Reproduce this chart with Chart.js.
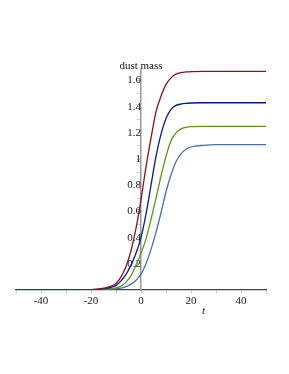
<!DOCTYPE html>
<html>
<head>
<meta charset="utf-8">
<script src="https://cdn.jsdelivr.net/npm/chart.js@4/dist/chart.umd.min.js"></script>
<style>
  html, body { margin: 0; padding: 0; background: #fff; }
  #wrap { width: 289px; height: 374px; }
</style>
</head>
<body>
<div id="wrap"><canvas id="chart"></canvas></div>
<script>
// time values (t)
const tValues = [-50, -30, -20, -16, -12, -10, -8, -6, -4, -2, 0, 2, 4, 6, 8, 10, 12, 14, 16, 18, 20, 25, 30, 40, 50];

// dust mass, one list per curve
const massRed   = [0, 0, 0.003, 0.01, 0.03, 0.05, 0.1, 0.18, 0.3, 0.47, 0.69, 0.94, 1.16, 1.36, 1.48, 1.57, 1.62, 1.648, 1.66, 1.665, 1.668, 1.67, 1.67, 1.67, 1.67];
const massBlue  = [0, 0, 0.002, 0.006, 0.02, 0.035, 0.07, 0.12, 0.19, 0.28, 0.4, 0.58, 0.8, 1.02, 1.19, 1.31, 1.38, 1.41, 1.42, 1.425, 1.428, 1.43, 1.43, 1.43, 1.43];
const massGreen = [0, 0, 0.001, 0.003, 0.01, 0.017, 0.03, 0.06, 0.11, 0.19, 0.28, 0.39, 0.54, 0.7, 0.87, 1.02, 1.14, 1.2, 1.23, 1.242, 1.247, 1.25, 1.25, 1.25, 1.25];
const massLight = [0, 0, 0, 0.002, 0.006, 0.009, 0.014, 0.026, 0.045, 0.075, 0.12, 0.2, 0.31, 0.44, 0.59, 0.75, 0.88, 0.98, 1.04, 1.075, 1.092, 1.105, 1.11, 1.11, 1.11];

const xTickLabels = [-40, -20, 0, 20, 40];
const yTickLabels = [0.2, 0.4, 0.6, 0.8, 1, 1.2, 1.4, 1.6];
// small unlabelled tick marks between the labelled ones
const yMinorTicks = [0.1, 0.3, 0.5, 0.7, 0.9, 1.1, 1.3, 1.5];

const yTitle = 'dust mass';
const xTitle = 't';

const toPoints = (ys) => tValues.map((t, i) => ({x: t, y: ys[i]}));

const serif = '"Liberation Serif", "DejaVu Serif", serif';

const axisTitles = {
    id: 'axisTitles',
    afterDraw(chart) {
        const c = chart.ctx;
        const xs = chart.scales.x, ys = chart.scales.y;
        c.save();
        c.fillStyle = '#111';
        c.font = '11px ' + serif;
        c.textAlign = 'center';
        c.textBaseline = 'alphabetic';
        c.fillText(yTitle, xs.getPixelForValue(0), chart.chartArea.top - 1);
        c.font = 'italic 11px ' + serif;
        c.fillText(xTitle, xs.getPixelForValue(25), ys.getPixelForValue(0) + 24);
        c.restore();
    }
};

const ctx = document.getElementById('chart').getContext('2d');
const chart = new Chart(ctx, {
    type: 'line',
    data: {
        datasets: [
            { data: toPoints(massRed),   borderColor: '#8c1020' },
            { data: toPoints(massBlue),  borderColor: '#0a1890' },
            { data: toPoints(massGreen), borderColor: '#5a9812' },
            { data: toPoints(massLight), borderColor: '#4a6eb2' },
        ]
    },
    options: {
        responsive: true,
        maintainAspectRatio: false,
        animation: false,
        layout: { padding: { left: 16, right: 23, top: 70, bottom: 84 } },
        elements: {
            point: { radius: 0 },
            line: { borderWidth: 1.3, cubicInterpolationMode: 'monotone', fill: false }
        },
        plugins: {
            legend: { display: false },
            tooltip: { enabled: false }
        },
        scales: {
            x: {
                type: 'linear',
                position: { y: 0 },
                min: -50,
                max: 50,
                grid: { drawOnChartArea: false, tickLength: 3, color: '#ccc' },
                border: { color: '#444', width: 1.2 },
                ticks: {
                    stepSize: 10,
                    autoSkip: false,
                    maxRotation: 0,
                    color: '#222',
                    font: { family: serif, size: 11 },
                    padding: 2,
                    callback: (v) => xTickLabels.includes(v) ? String(v) : ''
                }
            },
            y: {
                type: 'linear',
                position: { x: 0 },
                min: 0,
                max: 1.68,
                grid: { drawOnChartArea: false, tickLength: 3, color: '#ccc' },
                border: { color: '#999', width: 1.5 },
                afterBuildTicks: (axis) => {
                    axis.ticks = yTickLabels.concat(yMinorTicks).map(v => ({ value: v }));
                },
                ticks: {
                    autoSkip: false,
                    color: '#222',
                    font: { family: serif, size: 11 },
                    padding: 4,
                    callback: (v) => yTickLabels.includes(v) ? String(v) : ''
                }
            }
        }
    },
    plugins: [axisTitles]
});
</script>
</body>
</html>
